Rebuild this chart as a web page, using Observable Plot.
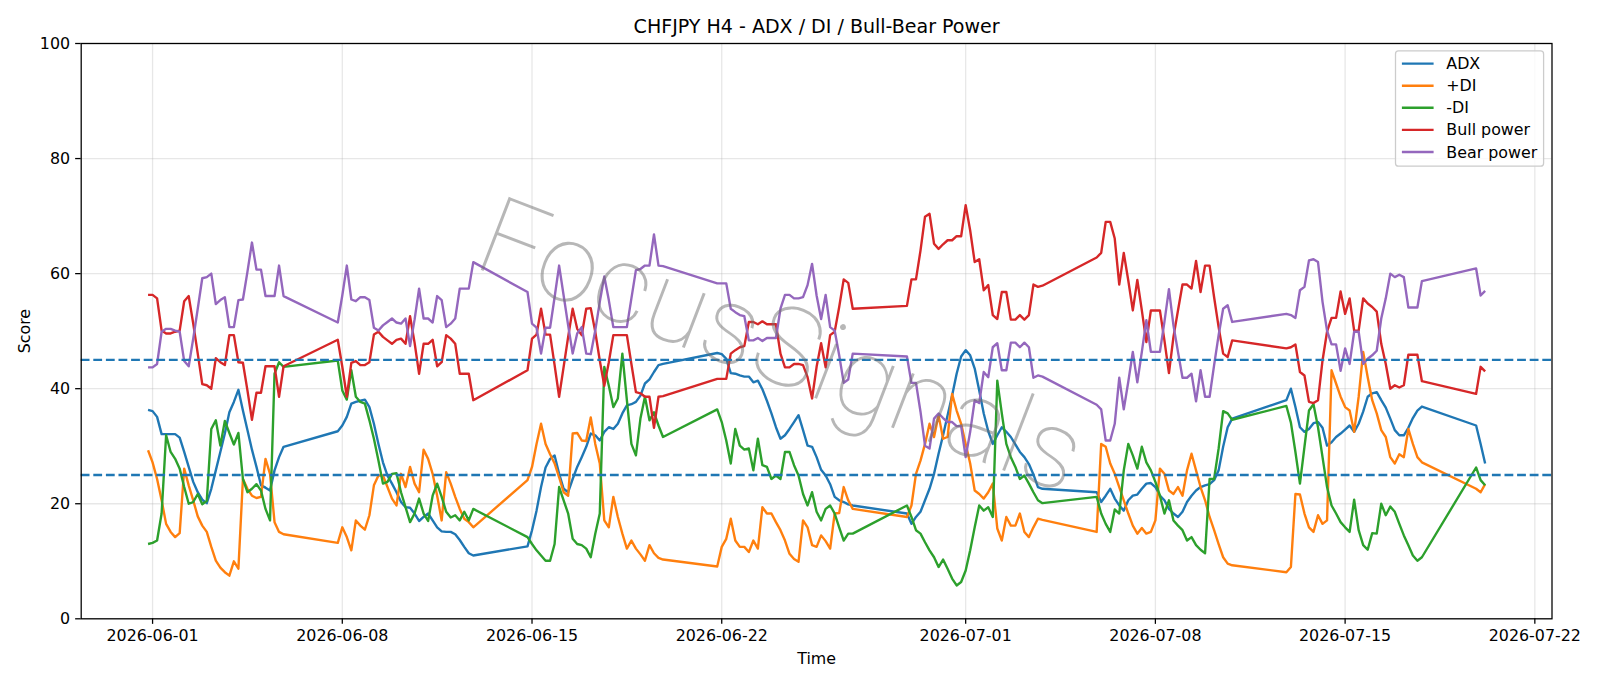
<!DOCTYPE html>
<html>
<head>
<meta charset="utf-8">
<script src="https://cdn.jsdelivr.net/npm/d3@7"></script>
<script src="https://cdn.jsdelivr.net/npm/@observablehq/plot@0.6"></script>
<style>
html, body { margin: 0; padding: 0; background: #fff; }
#chart { width: 1600px; height: 686px; }
#chart svg { display: block; }
</style>
</head>
<body>
<div id="chart"></div>
<script>
// ---- timeline: H4 bars, Sunday 20:00 to Friday 20:00 each week ----
const weekStarts = ["2026-05-31T20:00:00Z","2026-06-07T20:00:00Z","2026-06-14T20:00:00Z","2026-06-21T20:00:00Z","2026-06-28T20:00:00Z","2026-07-05T20:00:00Z","2026-07-12T20:00:00Z","2026-07-19T20:00:00Z"];
const barsPerWeek = [31,31,31,31,31,31,31,3];

const xTickLabels = ["2026-06-01","2026-06-08","2026-06-15","2026-06-22","2026-07-01","2026-07-08","2026-07-15","2026-07-22"];
const yTickValues = [0,20,40,60,80,100];
const thresholds = [25,45];
const seriesNames = ["ADX","+DI","-DI","Bull power","Bear power"];
const seriesColors = ["#1f77b4","#ff7f0e","#2ca02c","#d62728","#9467bd"];
const titleText = "CHFJPY H4 - ADX / DI / Bull-Bear Power";
const xLabel = "Time";
const yLabel = "Score";
const watermark = "FocusSignals";

const adx = [
36.3,36.1,35.1,32.1,32.1,32.1,32.1,31.5,29.0,26.4,23.8,22.0,20.7,20.1,22.6,25.8,29.0,32.2,35.9,37.7,39.8,36.2,32.8,29.4,26.4,23.2,22.8,22.3,25.8,28.1,29.9,
32.6,33.6,35.1,37.4,37.7,37.9,38.1,36.8,33.9,30.4,27.2,24.9,23.5,22.0,20.3,19.4,19.3,18.3,17.0,17.7,18.3,17.1,15.9,15.2,15.1,15.1,14.7,13.7,12.5,11.4,11.0,
12.6,15.4,18.8,22.9,26.3,27.8,28.4,25.2,22.6,22.0,24.3,26.4,28.1,29.9,32.2,31.9,31.0,32.5,33.3,33.0,33.9,35.7,37.1,37.3,37.7,38.8,40.9,41.6,42.9,44.1,44.3,
46.2,46.0,45.2,42.7,42.6,42.3,42.1,42.1,41.1,41.4,39.9,37.9,35.7,33.3,31.3,31.9,33.0,34.2,35.4,32.8,30.1,29.9,28.1,25.9,24.9,23.4,21.2,20.6,20.3,19.9,19.7,
18.3,16.5,17.7,18.6,20.6,22.6,25.2,28.7,31.9,35.4,38.8,42.6,45.6,46.7,45.8,43.5,39.7,35.7,32.6,30.4,31.9,33.3,32.5,31.6,30.3,29.0,28.1,26.9,25.1,22.9,22.6,
22.0,20.3,21.4,22.6,20.9,19.7,18.8,20.6,21.4,21.6,22.6,23.5,23.6,22.9,21.4,20.6,19.1,18.3,17.7,18.6,20.3,21.4,22.3,22.9,23.2,23.4,24.1,25.8,29.9,33.3,34.8,
38.0,40.0,36.8,33.3,32.5,33.0,34.0,34.2,33.2,30.1,30.7,31.6,32.2,32.9,33.6,32.5,33.9,36.0,38.6,39.2,39.4,38.0,36.7,34.8,32.8,31.9,31.9,33.2,34.9,36.2,36.9,
33.6,30.4,27.0];

const plusDI = [
29.3,27.2,24.3,20.6,16.5,15.1,14.2,14.9,26.1,23.2,20.6,17.8,16.2,15.1,12.5,10.1,8.9,8.1,7.5,10.0,8.7,24.3,22.6,21.4,21.0,21.2,27.8,25.2,16.8,15.1,14.7,
13.2,15.9,14.2,11.9,17.1,16.2,15.5,18.0,23.2,24.9,24.9,22.9,20.9,19.7,25.2,22.9,26.4,23.5,22.0,29.4,27.8,25.2,21.4,17.1,25.5,23.5,21.2,19.1,17.4,16.8,15.9,
24.1,26.4,30.4,33.9,30.4,28.6,27.0,24.6,22.0,21.4,32.2,32.3,31.0,30.9,35.0,30.4,27.0,17.1,15.9,21.2,17.7,14.8,12.2,13.6,12.2,11.2,10.1,12.8,11.4,10.6,10.3,
9.1,12.5,13.9,17.4,13.6,12.5,12.5,11.6,13.6,12.2,19.4,18.3,18.3,16.8,15.4,13.6,11.3,10.4,9.9,17.1,15.9,12.8,12.5,14.5,13.5,12.2,18.3,18.4,22.9,20.6,19.1,
17.7,19.7,25.2,27.5,30.4,33.9,31.6,35.4,31.3,31.6,39.1,36.2,33.9,30.4,27.0,22.3,21.7,20.9,22.0,23.5,15.7,13.6,17.7,16.2,16.2,18.3,15.1,14.2,15.9,17.4,17.2,
15.1,30.4,29.9,27.0,25.2,22.9,20.6,18.3,16.2,14.8,15.8,14.8,15.1,17.1,26.1,25.2,22.3,21.7,22.9,21.4,25.8,28.7,25.8,22.9,20.6,17.7,15.4,13.0,10.7,9.6,9.3,
8.1,9.0,21.7,21.6,18.3,15.9,15.1,18.0,16.5,17.1,43.2,40.9,38.6,36.8,36.2,32.5,38.6,46.4,42.0,38.0,35.7,32.8,31.6,28.1,27.0,28.6,28.1,33.0,30.4,28.1,27.2,
22.6,22.0,23.4];

const minusDI = [
13.0,13.2,13.6,18.3,31.9,29.0,27.8,26.1,22.9,20.0,20.3,21.7,19.9,20.5,33.0,34.5,30.1,34.4,32.3,30.3,32.3,24.3,22.0,22.6,23.4,22.3,19.1,17.1,42.6,44.6,43.8,
44.9,39.7,38.1,43.2,38.6,37.7,37.4,34.5,31.3,27.5,23.5,23.8,25.2,25.3,22.0,19.4,16.8,18.3,20.9,18.3,17.0,21.4,23.5,21.2,18.6,17.6,18.0,17.1,18.6,17.1,19.1,
14.2,13.0,11.9,11.0,10.1,10.1,13.0,22.9,20.6,18.3,13.9,13.0,12.8,12.2,10.7,14.8,18.3,43.8,40.5,36.8,38.3,46.1,38.0,30.4,28.4,34.8,38.6,34.5,35.9,33.6,31.6,
36.4,34.2,31.0,27.0,33.0,30.1,29.4,29.6,25.8,31.3,26.7,26.4,24.3,24.9,24.3,29.0,29.0,26.7,24.9,21.7,19.7,22.0,18.6,17.1,19.1,19.7,18.3,15.9,13.6,14.8,14.8,
19.7,17.7,15.4,14.8,13.3,11.9,10.7,9.0,10.3,8.7,7.0,5.8,6.4,8.4,11.9,15.9,19.7,18.8,19.4,17.7,41.4,35.7,30.4,28.1,26.4,24.3,24.9,23.5,22.0,20.6,20.1,
21.2,18.3,16.5,15.1,19.0,18.3,25.8,30.4,28.4,26.1,29.9,27.2,25.8,23.8,21.4,18.3,20.6,17.1,16.2,15.4,13.6,14.2,12.8,12.0,11.4,24.3,24.3,29.6,36.1,35.7,34.6,
37.0,34.1,29.0,23.5,29.9,36.2,37.3,33.3,28.1,22.9,19.7,18.3,16.8,15.9,15.1,20.7,15.4,12.8,12.0,14.9,14.8,20.0,18.0,19.5,18.6,16.5,14.5,12.8,11.0,10.1,10.7,
26.3,24.1,23.2];

const bullPower = [
56.3,56.3,55.7,50.1,49.6,49.6,49.9,50.1,55.2,56.1,51.3,46.1,40.8,40.6,40.0,45.3,44.6,44.1,49.3,49.3,44.6,44.5,39.7,34.6,39.3,39.3,43.9,43.9,43.9,38.6,43.9,
48.5,43.8,38.6,44.5,44.8,44.1,44.1,44.6,49.4,49.9,49.0,48.4,47.8,48.5,48.7,47.8,52.6,48.0,42.6,47.8,47.8,48.5,43.9,44.6,49.3,48.7,47.8,42.6,42.6,42.6,38.0,
43.2,48.7,49.4,53.9,49.4,49.4,44.1,38.6,43.8,49.0,53.9,50.4,49.3,53.9,54.0,49.9,44.9,40.5,44.6,49.3,49.3,49.3,49.3,44.3,39.4,39.2,38.6,38.6,33.2,38.6,38.7,
41.7,41.7,41.7,46.1,46.7,47.2,47.4,51.6,51.6,51.2,51.7,51.2,51.2,51.2,46.1,43.7,43.7,44.3,44.3,44.1,42.0,38.3,43.8,47.9,43.7,49.3,49.9,54.2,59.0,58.4,53.9,
54.4,59.0,59.0,64.0,69.9,70.4,65.2,64.3,65.1,65.8,65.8,66.5,66.5,71.9,67.5,62.0,62.5,57.1,58.0,52.8,52.1,56.8,56.8,52.0,52.0,52.8,52.0,52.8,58.1,57.7,57.9,
62.8,63.6,69.0,69.0,66.1,58.1,63.6,58.8,53.6,58.9,53.6,48.1,53.6,53.6,53.6,48.4,42.7,49.0,53.6,58.1,58.1,57.4,62.2,56.8,61.4,61.4,55.9,50.7,46.1,45.5,48.4,
47.0,47.2,47.7,42.9,42.3,37.7,37.5,38.0,44.9,49.9,52.3,52.3,56.9,53.0,55.7,50.1,50.1,55.7,54.8,54.2,53.4,47.8,44.3,40.0,40.6,40.2,40.6,45.9,45.9,45.9,41.3,
39.1,43.8,43.0];

const bearPower = [
43.7,43.7,44.3,49.9,50.4,50.4,50.1,49.9,44.8,43.9,48.7,53.9,59.2,59.4,60.0,54.7,55.4,55.9,50.7,50.7,55.4,55.5,60.3,65.4,60.7,60.7,56.1,56.1,56.1,61.4,56.1,
51.5,56.2,61.4,55.5,55.2,55.9,55.9,55.4,50.6,50.1,51.0,51.6,52.2,51.5,51.3,52.2,47.4,52.0,57.4,52.2,52.2,51.5,56.1,55.4,50.7,51.3,52.2,57.4,57.4,57.4,62.0,
56.8,51.3,50.6,46.1,50.6,50.6,55.9,61.4,56.2,51.0,46.1,49.6,50.7,46.1,46.0,50.1,55.1,59.5,55.4,50.7,50.7,50.7,50.7,55.7,60.6,60.8,61.4,61.4,66.8,61.4,61.3,
58.3,58.3,58.3,53.9,53.3,52.8,52.6,48.4,48.4,48.8,48.3,48.8,48.8,48.8,53.9,56.3,56.3,55.7,55.7,55.9,58.0,61.7,56.2,52.1,56.3,50.7,50.1,45.8,41.0,41.6,46.1,
45.6,41.0,41.0,36.0,30.1,29.6,34.8,35.7,34.9,34.2,34.2,33.5,33.5,28.1,32.5,38.0,37.5,42.9,42.0,47.2,47.9,43.2,43.2,48.0,48.0,47.2,48.0,47.2,41.9,42.3,42.1,
37.2,36.4,31.0,31.0,33.9,41.9,36.4,41.2,46.4,41.1,46.4,51.9,46.4,46.4,46.4,51.6,57.3,51.0,46.4,41.9,41.9,42.6,37.8,43.2,38.6,38.6,44.1,49.3,53.9,54.5,51.6,
53.0,52.8,52.3,57.1,57.7,62.3,62.5,62.0,55.1,50.1,47.7,47.7,43.1,47.0,44.3,49.9,49.9,44.3,45.2,45.8,46.6,52.2,55.7,60.0,59.4,59.8,59.4,54.1,54.1,54.1,58.7,
60.9,56.2,57.0];

// ---- build table ----
const H4 = 4 * 3600 * 1000;
const times = weekStarts.flatMap((s, w) => d3.range(barsPerWeek[w]).map(k => new Date(Date.parse(s) + k * H4)));
const seriesValues = [adx, plusDI, minusDI, bullPower, bearPower];
const rows = seriesNames.flatMap((name, si) =>
  times.map((t, i) => ({t, v: seriesValues[si][i], name})).filter(r => r.v != null));

const tMin = d3.min(times), tMax = d3.max(times);
const pad = 0.05 * (tMax - tMin);
const xDomain = [new Date(+tMin - pad), new Date(+tMax + pad)];
const xTicks = xTickLabels.map(s => new Date(s + "T00:00:00Z"));

const FS = 15.87;
const LW = 2.38;

const chart = Plot.plot({
  width: 1600,
  height: 686,
  marginLeft: 80.7,
  marginRight: 48.5,
  marginTop: 43,
  marginBottom: 67.7,
  style: {fontFamily: "'DejaVu Sans', sans-serif", fontSize: FS + "px", color: "#000", background: "#fff"},
  x: {type: "utc", domain: xDomain},
  y: {domain: [0, 100]},
  color: {domain: seriesNames, range: seriesColors},
  marks: [
    Plot.gridX(xTicks, {stroke: "#b0b0b0", strokeOpacity: 0.3, strokeWidth: 1.27}),
    Plot.gridY(yTickValues, {stroke: "#b0b0b0", strokeOpacity: 0.3, strokeWidth: 1.27}),
    Plot.line(rows, {x: "t", y: "v", z: "name", stroke: "name", strokeWidth: LW, strokeLinejoin: "round", strokeLinecap: "butt"}),
    Plot.ruleY(thresholds, {stroke: "#1f77b4", strokeWidth: LW, strokeDasharray: "8.8,3.8"}),
    Plot.text([watermark], {text: d => d, frameAnchor: "middle", dx: -36, dy: 16, rotate: 21, fontSize: 110, fontFamily: "Roboto, Lato, Inter, 'DejaVu Sans', sans-serif", fontWeight: 100, fill: "#707070", fillOpacity: 0.5}),
    Plot.frame({stroke: "#000", strokeWidth: 1.27}),
    Plot.axisX(xTicks, {tickFormat: d3.utcFormat("%Y-%m-%d"), tickSize: 5.56, tickPadding: 5.56, label: null, strokeWidth: 1.27, fontSize: FS}),
    Plot.axisY(yTickValues, {tickSize: 5.56, tickPadding: 5.56, label: null, strokeWidth: 1.27, fontSize: FS}),
    Plot.text([titleText], {text: d => d, frameAnchor: "top", dy: -24, fontSize: 19.05}),
    Plot.text([xLabel], {text: d => d, frameAnchor: "bottom", dy: 44.8, fontSize: FS}),
    Plot.text([yLabel], {text: d => d, frameAnchor: "left", textAnchor: "middle", dx: -56.2, rotate: -90, fontSize: FS})
  ]
});

// ---- legend (inside the axes, upper right) ----
const svg = d3.select(chart);
const lg = svg.append("g").attr("font-family", "'DejaVu Sans', sans-serif").attr("font-size", FS).attr("text-anchor", "start");
lg.append("rect")
  .attr("x", 1395.5).attr("y", 50.9).attr("width", 148.1).attr("height", 115.3).attr("rx", 3)
  .attr("fill", "#fff").attr("fill-opacity", 0.8).attr("stroke", "#cccccc").attr("stroke-width", 1.27);
seriesNames.forEach((name, i) => {
  const y = 63.6 + 22.1 * i;
  lg.append("line").attr("x1", 1401.9).attr("x2", 1433.6).attr("y1", y).attr("y2", y)
    .attr("stroke", seriesColors[i]).attr("stroke-width", LW);
  lg.append("text").attr("x", 1446.3).attr("y", y).attr("dy", "0.35em").attr("text-anchor", "start").attr("fill", "#000").text(name);
});

document.getElementById("chart").appendChild(chart);
</script>
</body>
</html>
